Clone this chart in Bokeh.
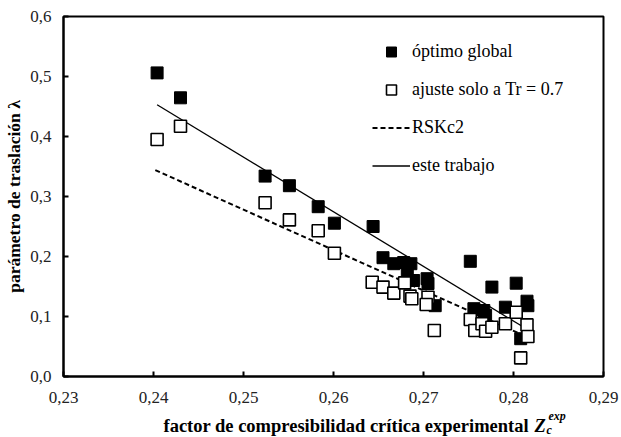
from bokeh.plotting import figure
from bokeh.layouts import column
from bokeh.models import (Range1d, FixedTicker, CustomJSTickFormatter,
                          Legend, LegendItem)
from bokeh.core.properties import value
from bokeh.embed import file_html
from bokeh.resources import INLINE

# --- data -------------------------------------------------------------
zc_global = [0.2404, 0.2430, 0.2524, 0.2551, 0.2583, 0.2601, 0.2644, 0.2655,
             0.2667, 0.2678, 0.2686, 0.2682, 0.2689, 0.2704, 0.2705, 0.2713,
             0.2752, 0.2756, 0.2767, 0.2769, 0.2776, 0.2791, 0.2803, 0.2815,
             0.2816, 0.2808]
lam_global = [0.506, 0.4645, 0.334, 0.318, 0.283, 0.2555, 0.250, 0.198,
              0.188, 0.190, 0.188, 0.171, 0.160, 0.163, 0.155, 0.118,
              0.192, 0.113, 0.110, 0.102, 0.149, 0.1155, 0.1555, 0.1255,
              0.118, 0.063]

zc_tr07 = [0.2404, 0.2430, 0.2524, 0.2551, 0.2583, 0.2601, 0.2643, 0.2655,
           0.2667, 0.2679, 0.2685, 0.2687, 0.2705, 0.2703, 0.2712, 0.2752,
           0.2757, 0.2765, 0.2769, 0.2776, 0.2791, 0.2803, 0.2815, 0.2816,
           0.2808]
lam_tr07 = [0.395, 0.417, 0.2895, 0.261, 0.243, 0.2055, 0.157, 0.149,
            0.139, 0.156, 0.134, 0.1295, 0.132, 0.120, 0.0767, 0.095,
            0.0767, 0.0878, 0.0755, 0.082, 0.0878, 0.107, 0.086, 0.0667,
            0.031]

rskc2_x = [0.2402, 0.2815]
rskc2_y = [0.344, 0.066]
este_x = [0.2404, 0.2817]
este_y = [0.453, 0.077]

x_ticks = [0.23, 0.24, 0.25, 0.26, 0.27, 0.28, 0.29]
y_ticks = [0.0, 0.1, 0.2, 0.3, 0.4, 0.5, 0.6]

legend_labels = ["óptimo global", "ajuste solo a Tr = 0.7", "RSKc2", "este trabajo"]
y_title = "parámetro de traslación λ"
x_title = "factor de compresibilidad crítica experimental"

# --- main figure ------------------------------------------------------
SERIF = "Liberation Serif, Times New Roman, serif"
p = figure(width=620, height=410, output_backend="svg", toolbar_location=None,
           x_range=Range1d(0.23, 0.29), y_range=Range1d(0.0, 0.6),
           min_border_left=63, min_border_right=17, min_border_top=16,
           min_border_bottom=34)
p.grid.visible = False
p.outline_line_color = "black"
p.outline_line_width = 2
p.background_fill_color = "white"
p.border_fill_color = "white"

for ax, ticks, fmt, stand in ((p.xaxis, x_ticks, 2, 15), (p.yaxis, y_ticks, 1, 12)):
    ax.ticker = FixedTicker(ticks=ticks)
    ax.formatter = CustomJSTickFormatter(
        code="return tick.toFixed(%d).replace('.', ',');" % fmt)
    ax.axis_line_color = "black"
    ax.axis_line_width = 2
    ax.major_tick_in = 5
    ax.major_tick_out = 0
    ax.major_tick_line_width = 2
    ax.major_tick_line_color = "black"
    ax.minor_tick_line_color = None
    ax.major_label_text_font = SERIF
    ax.major_label_text_font_size = "17px"
    ax.major_label_text_color = "#222222"
    ax.major_label_standoff = stand

p.yaxis.axis_label = y_title
p.yaxis.axis_label_text_font = SERIF
p.yaxis.axis_label_text_font_style = "bold"
p.yaxis.axis_label_text_font_size = "17.5px"
p.yaxis.axis_label_text_color = "black"
p.yaxis.axis_label_standoff = 3

r_dash = p.line(rskc2_x, rskc2_y, line_color="black", line_width=2, line_dash="5 3")
r_solid = p.line(este_x, este_y, line_color="black", line_width=1.3)
r_glob = p.scatter(zc_global, lam_global, marker="square", size=12,
                   fill_color="black", line_color="black", line_width=1)
r_tr = p.scatter(zc_tr07, lam_tr07, marker="square", size=12,
                 fill_color="white", line_color="black", line_width=1.6)

legend = Legend(items=[LegendItem(label=legend_labels[0], renderers=[r_glob]),
                       LegendItem(label=legend_labels[1], renderers=[r_tr]),
                       LegendItem(label=legend_labels[2], renderers=[r_dash]),
                       LegendItem(label=legend_labels[3], renderers=[r_solid])],
                location=(309, 192), orientation="vertical")
legend.border_line_color = None
legend.background_fill_alpha = 0
legend.padding = 0
legend.margin = 0
legend.spacing = 0
legend.glyph_width = 38
legend.glyph_height = 25
legend.label_height = 38
legend.label_standoff = 2
legend.label_text_font = SERIF
legend.label_text_font_size = "18px"
legend.label_text_color = "black"
p.add_layout(legend, "center")

# --- x-axis title strip (rich text: Z with sub/superscript) -------------
# frame aligned with the main frame (63..603 px); 1 data unit = 1 px
t = figure(width=620, height=27, output_backend="svg", toolbar_location=None,
           title=None, x_range=Range1d(0, 540), y_range=Range1d(0, 27),
           x_axis_type=None, y_axis_type=None,
           min_border_left=63, min_border_right=17, min_border_top=0,
           min_border_bottom=0)
t.grid.visible = False
t.outline_line_color = None
t.border_fill_color = "white"
t.background_fill_color = "white"
t.text(x=[100], y=[12], text=[x_title], text_font=value(SERIF),
       text_font_style="bold", text_font_size="18.5px", text_color="black",
       text_align="left", text_baseline="alphabetic")
t.text(x=[471], y=[12], text=["Z"], text_font=value(SERIF),
       text_font_style="bold italic", text_font_size="18.5px", text_color="black",
       text_align="left", text_baseline="alphabetic")
t.text(x=[483], y=[8], text=["c"], text_font=value(SERIF),
       text_font_style="bold italic", text_font_size="12px", text_color="black",
       text_align="left", text_baseline="alphabetic")
t.text(x=[485], y=[22], text=["exp"], text_font=value(SERIF),
       text_font_style="bold italic", text_font_size="12px", text_color="black",
       text_align="left", text_baseline="alphabetic")

layout = column(p, t, spacing=0)
open("out.html", "w").write(file_html(layout, INLINE))
